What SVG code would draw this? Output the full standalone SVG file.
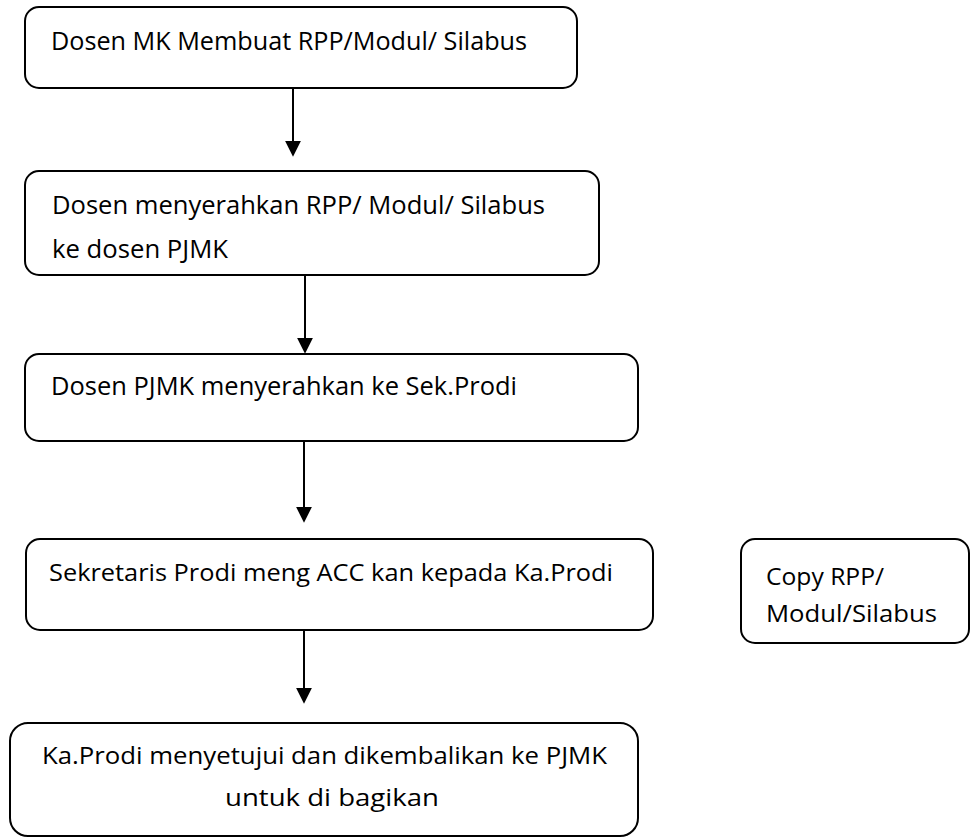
<svg xmlns="http://www.w3.org/2000/svg" width="976" height="839" viewBox="0 0 976 839">
  <style>
    .box { fill: #ffffff; stroke: #000000; stroke-width: 2; }
    .lbl { font-family: "Open Sans", "Noto Sans", "Liberation Sans", sans-serif; font-size: 25px; fill: #000000; }
    .sm { font-size: 24px; }
    .edge { stroke: #000000; stroke-width: 2; fill: none; marker-end: url(#arrow); }
  </style>
  <defs>
    <marker id="arrow" markerUnits="userSpaceOnUse" markerWidth="16" markerHeight="16" viewBox="0 0 15 15" refX="3" refY="7.5" orient="auto">
      <path d="M0,0 L15,7.5 L0,15 Z" fill="#000000"/>
    </marker>
  </defs>
  <rect width="976" height="839" fill="#ffffff"/>

  <g id="connectors">
    <line class="edge" x1="293" y1="88" x2="293" y2="144"/>
    <line class="edge" x1="305" y1="275" x2="305" y2="341"/>
    <line class="edge" x1="304" y1="441" x2="304" y2="510"/>
    <line class="edge" x1="304" y1="630" x2="304" y2="691"/>
  </g>

  <g id="step1">
    <rect class="box" x="25" y="7" width="552" height="81" rx="14"/>
    <text class="lbl" x="51" y="50" textLength="476" lengthAdjust="spacingAndGlyphs">Dosen MK Membuat RPP/Modul/ Silabus</text>
  </g>

  <g id="step2">
    <rect class="box" x="25" y="171" width="574" height="104" rx="14"/>
    <text class="lbl" x="52" y="214" textLength="493" lengthAdjust="spacingAndGlyphs">Dosen menyerahkan RPP/ Modul/ Silabus</text>
    <text class="lbl" x="52" y="258" textLength="176" lengthAdjust="spacingAndGlyphs">ke dosen PJMK</text>
  </g>

  <g id="step3">
    <rect class="box" x="25" y="354" width="613" height="87" rx="14"/>
    <text class="lbl" x="51" y="395" textLength="466" lengthAdjust="spacingAndGlyphs">Dosen PJMK menyerahkan ke Sek.Prodi</text>
  </g>

  <g id="step4">
    <rect class="box" x="26" y="539" width="627" height="91" rx="14"/>
    <text class="lbl sm" x="49" y="581" textLength="564" lengthAdjust="spacingAndGlyphs">Sekretaris Prodi meng ACC kan kepada Ka.Prodi</text>
  </g>

  <g id="copy">
    <rect class="box" x="741" y="539" width="228" height="104" rx="14"/>
    <text class="lbl sm" x="766" y="585" textLength="118" lengthAdjust="spacingAndGlyphs">Copy RPP/</text>
    <text class="lbl sm" x="766" y="622" textLength="171" lengthAdjust="spacingAndGlyphs">Modul/Silabus</text>
  </g>

  <g id="step5">
    <rect class="box" x="10" y="723" width="628" height="113" rx="18"/>
    <text class="lbl sm" x="42" y="764" textLength="565" lengthAdjust="spacingAndGlyphs">Ka.Prodi menyetujui dan dikembalikan ke PJMK</text>
    <text class="lbl sm" x="225" y="806" textLength="214" lengthAdjust="spacingAndGlyphs">untuk di bagikan</text>
  </g>
</svg>
